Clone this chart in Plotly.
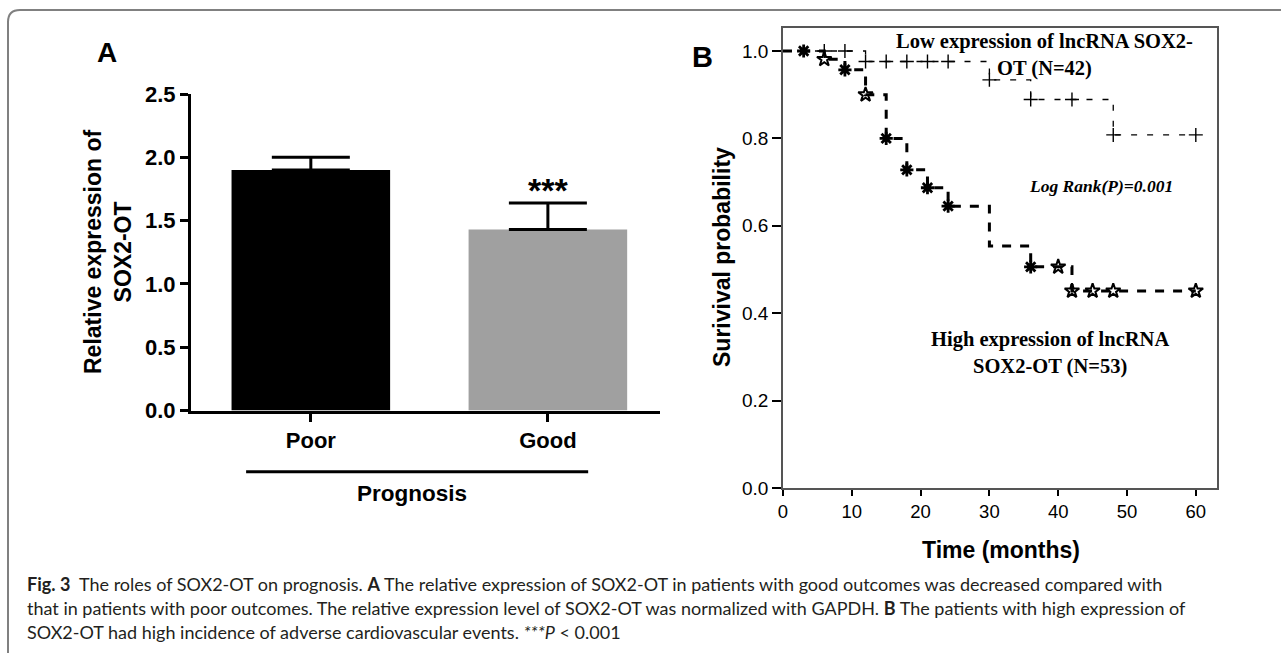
import plotly.graph_objects as go

W, H = 1281, 653

# ---------------- Panel A data ----------------
groups = ["Poor", "Good"]
expr_mean = [1.90, 1.43]
expr_err = [0.10, 0.21]
bar_colors = ["#000000", "#a0a0a0"]
a_yticks = [0.0, 0.5, 1.0, 1.5, 2.0, 2.5]

# ---------------- Panel B data (Kaplan-Meier) ----------------
low_step_t = [0, 12, 30, 36, 48, 60]
low_step_s = [1.0, 0.976, 0.934, 0.889, 0.808, 0.808]
low_cens_t = [6, 9, 12, 15, 18, 21, 24, 30, 36, 42, 48, 60]

high_step_t = [0, 6, 9, 12, 15, 18, 21, 24, 30, 36, 42, 60]
high_step_s = [1.0, 0.981, 0.957, 0.900, 0.800, 0.728, 0.687, 0.645, 0.554, 0.506, 0.451, 0.451]
high_mark_filled_t = [3, 9, 15, 18, 21, 24, 36]
high_mark_open_t = [6, 12, 40, 42, 45, 48, 60]

b_xticks = [0, 10, 20, 30, 40, 50, 60]
b_yticks = [0.0, 0.2, 0.4, 0.6, 0.8, 1.0]


def surv_at(t, ts, ss):
    val = ss[0]
    for tt, s in zip(ts, ss):
        if tt <= t:
            val = s
    return val


def px(x):
    return x / W


def py(y):
    return 1 - y / H


SANS = "Liberation Sans, Arial"
SERIF = "Liberation Serif, Times New Roman"
CAP = "Lato, Open Sans, Liberation Sans"

fig = go.Figure()

# Panel A bars
fig.add_trace(go.Bar(
    x=groups, y=expr_mean, width=0.669,
    marker=dict(color=bar_colors, line=dict(width=0)),
    error_y=dict(type="data", symmetric=False, array=expr_err, arrayminus=[0, 0],
                 color="black", thickness=3, width=39),
    xaxis="x", yaxis="y", showlegend=False, hoverinfo="skip",
))

# Panel B curves
fig.add_trace(go.Scatter(
    x=low_step_t, y=low_step_s, mode="lines",
    line=dict(shape="hv", color="black", width=1.3, dash="6px,10px"),
    xaxis="x2", yaxis="y2", showlegend=False,
))
fig.add_trace(go.Scatter(
    x=low_cens_t, y=[surv_at(t, low_step_t, low_step_s) for t in low_cens_t], mode="markers",
    marker=dict(symbol="cross-thin", size=10, line=dict(color="black", width=1.4)),
    xaxis="x2", yaxis="y2", showlegend=False,
))
fig.add_trace(go.Scatter(
    x=high_step_t, y=high_step_s, mode="lines",
    line=dict(shape="hv", color="black", width=3, dash="9px,9px"),
    xaxis="x2", yaxis="y2", showlegend=False,
))
fig.add_trace(go.Scatter(
    x=high_mark_filled_t, y=[surv_at(t, high_step_t, high_step_s) for t in high_mark_filled_t], mode="markers",
    marker=dict(symbol="asterisk", size=11, line=dict(color="black", width=2.8)),
    xaxis="x2", yaxis="y2", showlegend=False,
))
fig.add_trace(go.Scatter(
    x=high_mark_open_t, y=[surv_at(t, high_step_t, high_step_s) for t in high_mark_open_t], mode="markers",
    marker=dict(symbol="star-open", size=11, color="black", line=dict(color="black", width=2)),
    xaxis="x2", yaxis="y2", showlegend=False,
))

fig.update_layout(
    width=W, height=H,
    margin=dict(l=0, r=0, t=0, b=0),
    paper_bgcolor="white", plot_bgcolor="white",
    template="none",
    xaxis=dict(
        domain=[px(191), px(660)], range=[-0.5055, 1.473], anchor="y",
        showline=True, linewidth=3, linecolor="black", showgrid=False, zeroline=False,
        ticks="outside", ticklen=8, tickwidth=3, tickcolor="black",
        tickfont=dict(family=SANS, size=22, color="black", weight="bold"),
        ticklabelstandoff=0,
    ),
    yaxis=dict(
        domain=[py(410.5), py(94)], range=[0, 2.5], anchor="x",
        showline=True, linewidth=3, linecolor="black", showgrid=False, zeroline=False,
        ticks="outside", ticklen=8, tickwidth=3, tickcolor="black",
        tickvals=a_yticks, tickformat=".1f",
        tickfont=dict(family=SANS, size=22, color="black", weight="bold"),
    ),
    xaxis2=dict(
        domain=[px(783), px(1217)], range=[0, 63.08], anchor="y2",
        showline=True, mirror=True, linewidth=1.5, linecolor="#555", showgrid=False, zeroline=False,
        ticks="outside", ticklen=6, tickwidth=1.5, tickcolor="black",
        tickvals=b_xticks,
        tickfont=dict(family=SANS, size=18.5, color="black"),
    ),
    yaxis2=dict(
        domain=[py(488), py(28)], range=[0, 1.0526], anchor="x2",
        showline=True, mirror=True, linewidth=1.5, linecolor="#555", showgrid=False, zeroline=False,
        ticks="outside", ticklen=9, tickwidth=1.5, tickcolor="black",
        tickvals=b_yticks, tickformat=".1f",
        tickfont=dict(family=SANS, size=19, color="black"),
    ),
)


def note(text, x, y, size, family=SANS, angle=0, xanchor="center"):
    return dict(text=text, x=px(x), y=py(y), xref="paper", yref="paper", showarrow=False,
                xanchor=xanchor, yanchor="middle", textangle=angle, align="center",
                font=dict(family=family, size=size, color="black"))


ann = []
ann.append(note("<b>A</b>", 107, 52.5, 28))
ann.append(note("<b>B</b>", 702.6, 57, 29))
ann.append(note("<b>Relative expression of<br>SOX2-OT</b>", 108, 252, 23, angle=-90))
ann.append(dict(text="<b>***</b>", x=groups[1], y=expr_mean[1] + expr_err[1], xref="x", yref="y",
                xanchor="center", yanchor="middle", showarrow=False, yshift=13,
                font=dict(family=SANS, size=34, color="black")))
ann.append(note("<b>Prognosis</b>", 411.5, 493, 22.5))
ann.append(note("<b>Surivival probability</b>", 722, 257, 23, angle=-90))
ann.append(note("<b>Time (months)</b>", 1000.5, 550, 23))
ann.append(note("<b>Low expression of lncRNA SOX2-<br>OT (N=42)</b>", 1044.5, 55, 20.5, family=SERIF))
ann.append(note("<b><i>Log Rank(P)=0.001</i></b>", 1101, 186, 17.5, family=SERIF))
ann.append(note("<b>High expression of lncRNA<br>SOX2-OT (N=53)</b>", 1050, 352.5, 20.5, family=SERIF))

cap_lines = [
    "<b>Fig. 3</b>  The roles of SOX2-OT on prognosis. <b>A</b> The relative expression of SOX2-OT in patients with good outcomes was decreased compared with",
    "that in patients with poor outcomes. The relative expression level of SOX2-OT was normalized with GAPDH. <b>B</b> The patients with high expression of",
    "SOX2-OT had high incidence of adverse cardiovascular events. <i>***P</i> &lt; 0.001",
]
for i, line in enumerate(cap_lines):
    a = note(line, 25, 584 + 24 * i, 18, family=CAP, xanchor="left")
    a["font"]["color"] = "#231f20"
    ann.append(a)
fig.update_layout(annotations=ann)

shapes = []
shapes.append(dict(type="line", xref="x", yref="paper", x0=-0.273, x1=1.170, y0=py(471.7), y1=py(471.7),
                   line=dict(color="black", width=3)))
l, t = 8, 10
path = (f"M {px(l)},{py(H + 5)} L {px(l)},{py(t + 12)} Q {px(l)},{py(t)} {px(l + 12)},{py(t)} "
        f"L {px(W + 5)},{py(t)}")
shapes.append(dict(type="path", xref="paper", yref="paper", path=path, line=dict(color="#808080", width=2)))
fig.update_layout(shapes=shapes)

fig.write_html("out.html", config={"displayModeBar": False},
               post_script="document.body.style.margin='0px';document.body.style.overflow='hidden';")
